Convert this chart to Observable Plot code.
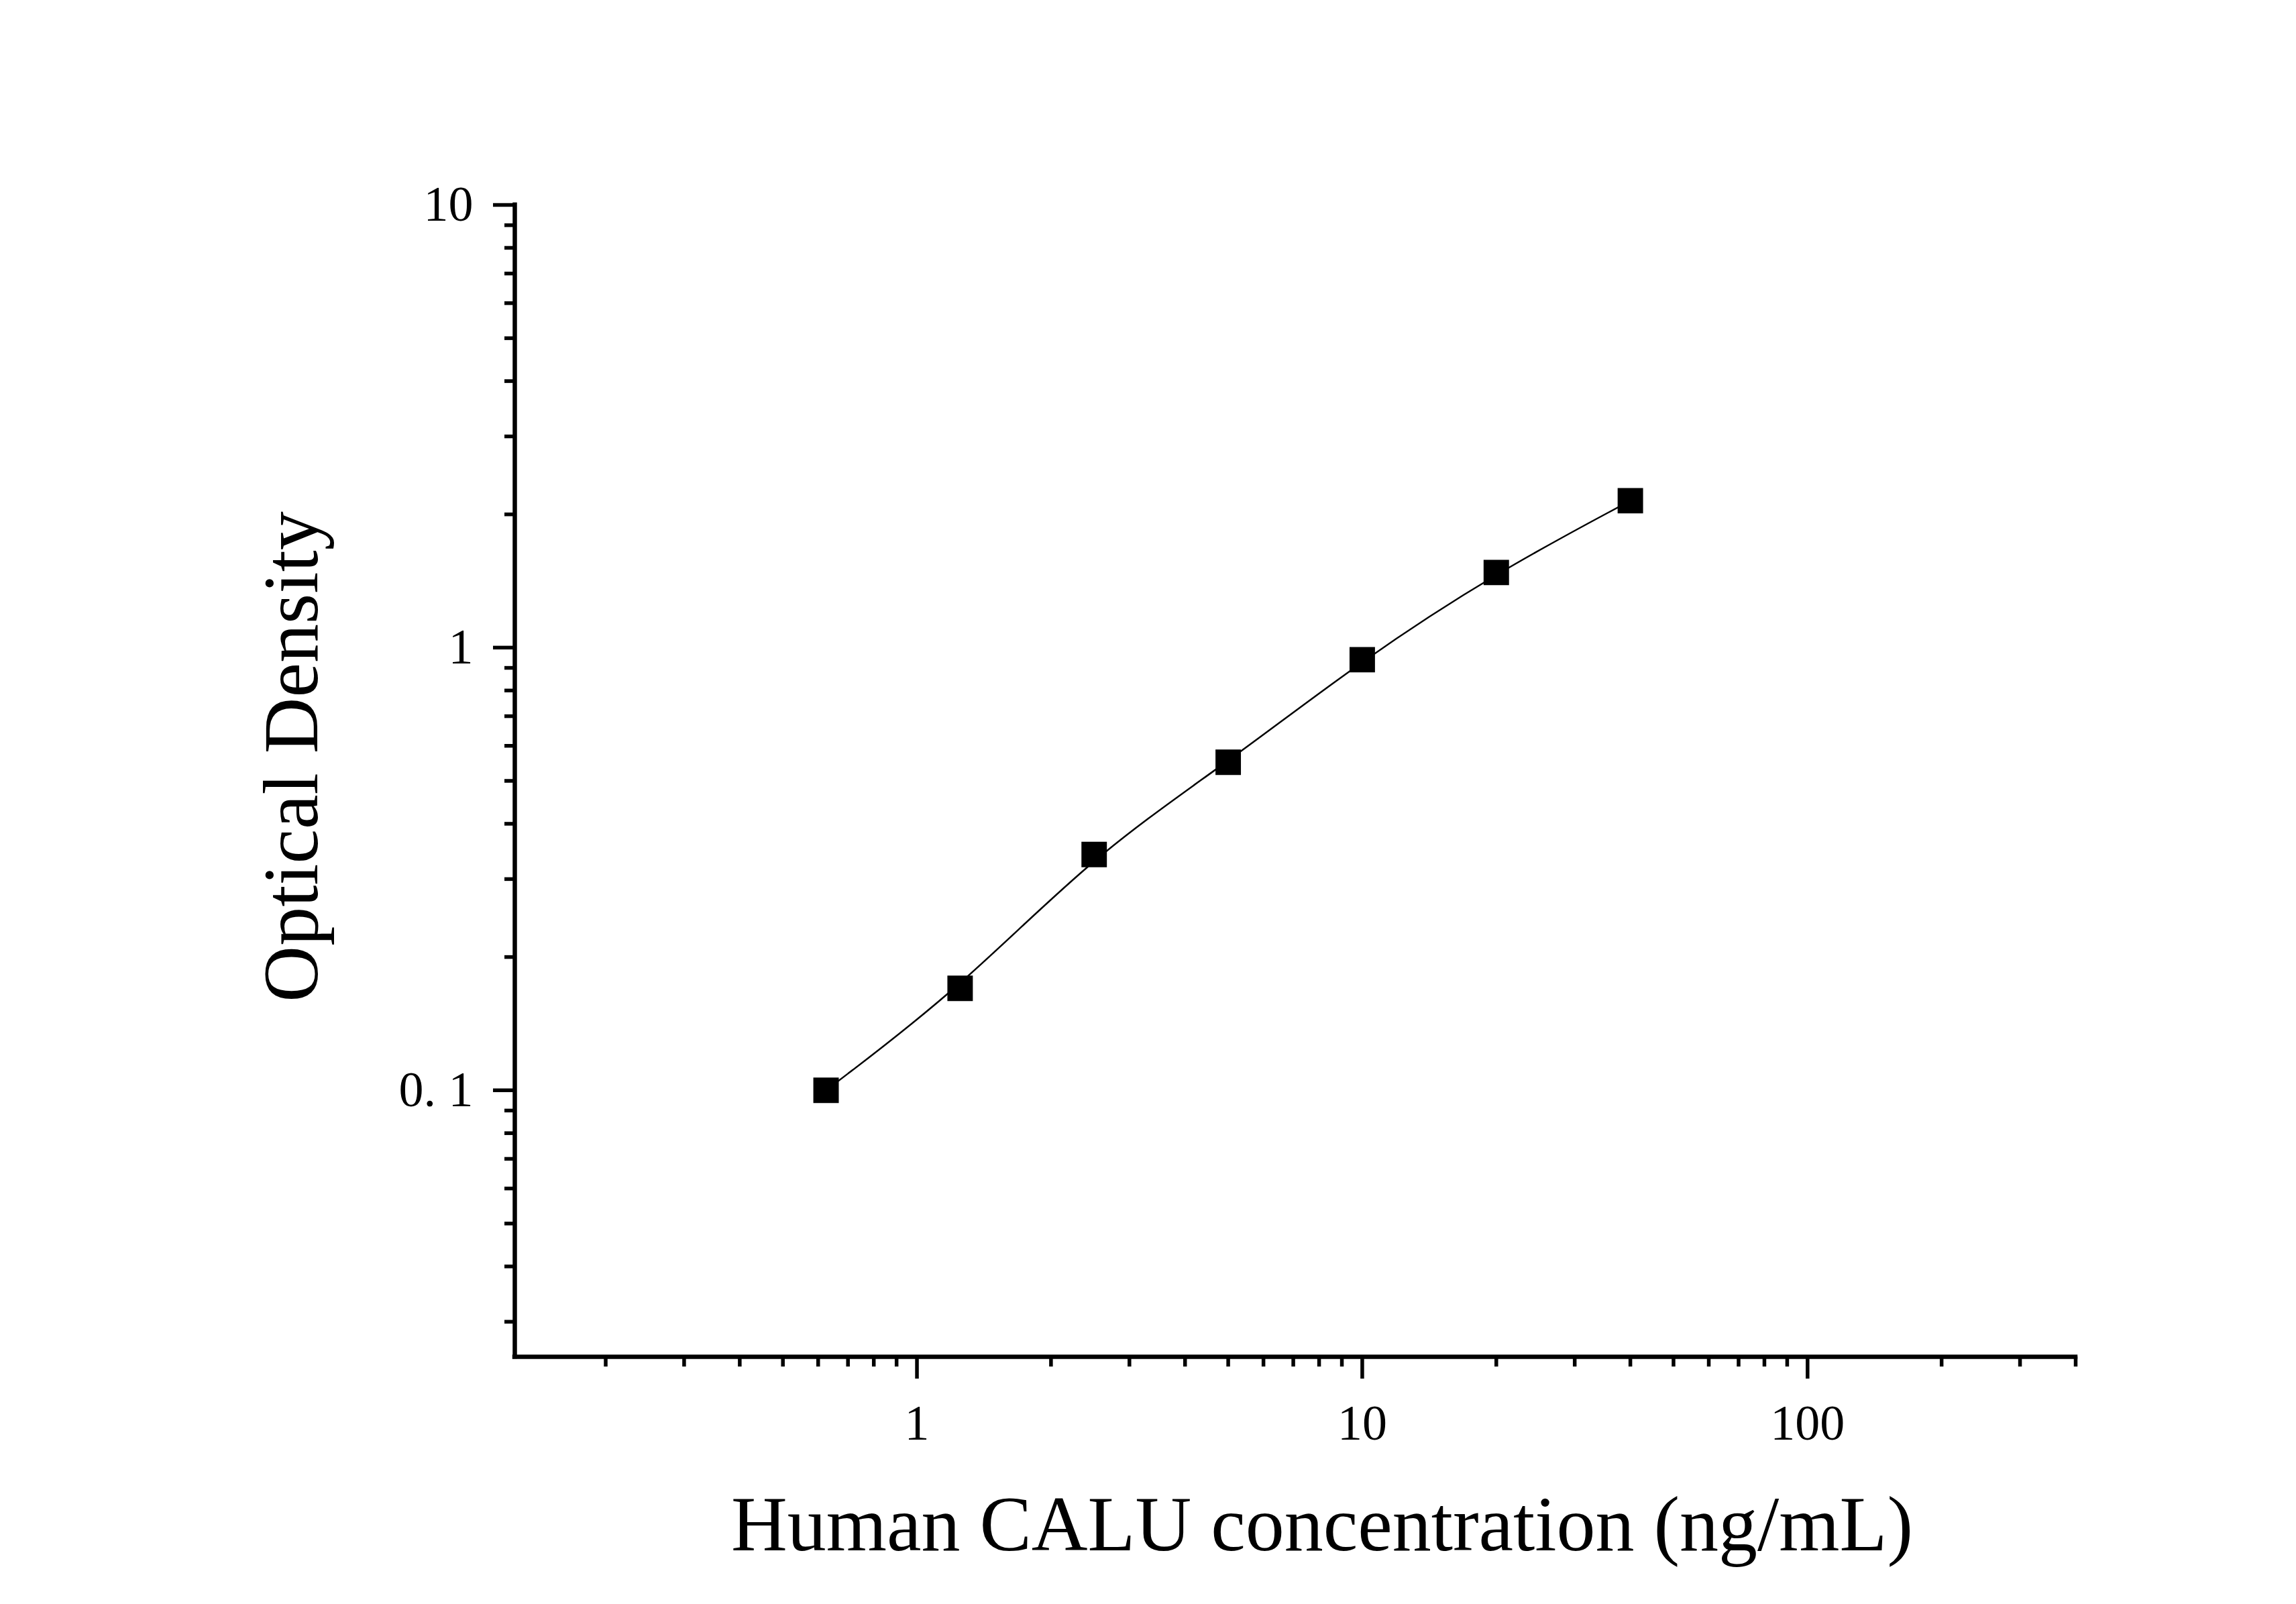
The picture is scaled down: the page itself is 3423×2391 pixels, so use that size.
<!DOCTYPE html>
<html>
<head>
<meta charset="utf-8">
<script src="https://cdn.jsdelivr.net/npm/d3@7"></script>
<script src="https://cdn.jsdelivr.net/npm/@observablehq/plot@0.6"></script>
<style>
  html, body { margin: 0; padding: 0; background: #ffffff; }
  #chart svg { display: block; }
</style>
</head>
<body>
<div id="chart"></div>
<script>
// ---- data ----
const concentration = [0.625, 1.25, 2.5, 5, 10, 20, 40];
const opticalDensity = [0.100, 0.170, 0.341, 0.551, 0.939, 1.478, 2.147];

const xDomain = [0.125, 400];
const yDomain = [0.025, 10];

const xMajorTicks = [1, 10, 100];
const xMajorLabels = ["1", "10", "100"];
const xMinorTicks = [0.2, 0.3, 0.4, 0.5, 0.6, 0.7, 0.8, 0.9,
                     2, 3, 4, 5, 6, 7, 8, 9,
                     20, 30, 40, 50, 60, 70, 80, 90,
                     200, 300, 400];
const yMajorTicks = [0.1, 1, 10];
const yMajorLabels = ["0. 1", "1", "10"];
const yMinorTicks = [0.03, 0.04, 0.05, 0.06, 0.07, 0.08, 0.09,
                     0.2, 0.3, 0.4, 0.5, 0.6, 0.7, 0.8, 0.9,
                     2, 3, 4, 5, 6, 7, 8, 9];

const xTitle = "Human CALU concentration (ng/mL)";
const yTitle = "Optical Density";

const data = concentration.map((c, i) => ({c, od: opticalDensity[i]}));

const font = "'Liberation Serif', 'Times New Roman', serif";

const chart = Plot.plot({
  width: 3423,
  height: 2391,
  marginLeft: 767,
  marginRight: 329,
  marginTop: 305,
  marginBottom: 369,
  style: {fontFamily: font, fontSize: "74px", color: "#000", background: "#fff"},
  x: {type: "log", domain: xDomain, axis: null},
  y: {type: "log", domain: yDomain, axis: null},
  marks: [
    // minor ticks
    Plot.axisX({ticks: xMinorTicks, tickSize: 15, strokeWidth: 5.5, tickFormat: null, text: null, label: null}),
    Plot.axisY({ticks: yMinorTicks, tickSize: 15, strokeWidth: 5.5, tickFormat: null, text: null, label: null}),
    // major ticks with labels
    Plot.axisX({ticks: xMajorTicks, tickSize: 33, tickPadding: 38, strokeWidth: 5.5,
      tickFormat: d => xMajorLabels[xMajorTicks.indexOf(d)], fontSize: 74, label: null}),
    Plot.axisY({ticks: yMajorTicks, tickSize: 32, tickPadding: 30, strokeWidth: 5.5,
      tickFormat: d => yMajorLabels[yMajorTicks.indexOf(d)], fontSize: 74, label: null}),
    // axis lines
    Plot.ruleX([xDomain[0]], {strokeWidth: 6.5, strokeLinecap: "square"}),
    Plot.ruleY([yDomain[0]], {strokeWidth: 6.5, strokeLinecap: "square"}),
    // fitted curve (smoothed through the standards)
    Plot.line(data, {x: "c", y: "od", curve: "basis", stroke: "#000", strokeWidth: 2.5}),
    // markers
    Plot.dot(data, {x: "c", y: "od", symbol: "square", r: 21.4, fill: "#000", stroke: "none"}),
    // titles
    Plot.text([xTitle], {frameAnchor: "bottom", text: d => d, fontSize: 116, lineAnchor: "bottom",
      textAnchor: "middle", dx: 40, dy: 288, fill: "#000"}),
    Plot.text([yTitle], {frameAnchor: "left", text: d => d, fontSize: 116, lineAnchor: "bottom",
      textAnchor: "middle", rotate: -90, dx: -295, dy: -36, fill: "#000"})
  ]
});

document.getElementById("chart").appendChild(chart);
</script>
</body>
</html>
